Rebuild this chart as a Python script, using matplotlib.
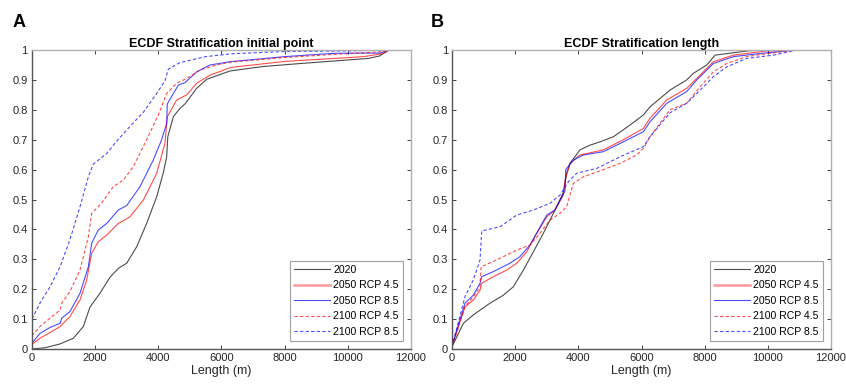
import matplotlib.pyplot as plt

plt.rcParams['font.family'] = ['Liberation Sans', 'DejaVu Sans']

# ---- Panel A: ECDF stratification initial point ----
a_2020_x = [0, 400, 890, 1310, 1625, 1835, 2150, 2470, 2735, 3000, 3315, 3630, 3950, 4160, 4265, 4300,
            4475, 4686, 4845, 5215, 5530, 6270, 7325, 8500, 10650, 11000, 11300]
a_2020_y = [0, 0.004, 0.017, 0.036, 0.075, 0.14, 0.186, 0.24, 0.27, 0.287, 0.342, 0.42, 0.51, 0.59, 0.643, 0.71,
            0.777, 0.805, 0.82, 0.872, 0.902, 0.93, 0.945, 0.955, 0.972, 0.98, 1.0]

a_2050_45_x = [0, 250, 570, 890, 1200, 1520, 1730, 1890, 2100, 2365, 2735, 3100, 3525, 3950, 4210, 4285,
               4580, 4900, 5215, 5635, 6300, 8000, 10500, 11100, 11300]
a_2050_45_y = [0.015, 0.036, 0.055, 0.075, 0.108, 0.164, 0.23, 0.32, 0.359, 0.381, 0.42, 0.442, 0.498, 0.588, 0.688, 0.777,
               0.833, 0.85, 0.889, 0.916, 0.942, 0.962, 0.978, 0.988, 1.0]

a_2050_85_x = [0, 250, 570, 890, 940, 1200, 1520, 1785, 1890, 2100, 2365, 2735, 3000, 3420, 3840, 4105, 4265, 4285,
               4635, 4845, 5215, 5635, 6270, 8000, 9540, 11020, 11300]
a_2050_85_y = [0.019, 0.052, 0.072, 0.086, 0.103, 0.125, 0.186, 0.275, 0.354, 0.398, 0.42, 0.465, 0.48, 0.543, 0.632, 0.7, 0.755, 0.82,
               0.883, 0.891, 0.927, 0.95, 0.961, 0.978, 0.989, 0.99, 1.0]

a_2100_45_x = [0, 250, 570, 890, 940, 1200, 1520, 1785, 1890, 2200, 2575, 2890, 3210, 3630, 4000, 4265,
               4580, 4900, 5320, 5850, 6300, 8000, 9500, 11000, 11300]
a_2100_45_y = [0.044, 0.075, 0.103, 0.13, 0.153, 0.192, 0.264, 0.376, 0.454, 0.487, 0.543, 0.565, 0.61, 0.7, 0.783, 0.855,
               0.889, 0.905, 0.933, 0.95, 0.96, 0.975, 0.985, 0.994, 1.0]

a_2100_85_x = [0, 250, 570, 890, 1200, 1520, 1785, 1940, 2365, 2680, 3100, 3525, 3950, 4210, 4317,
               4685, 5500, 6375, 8000, 10000, 11300]
a_2100_85_y = [0.1, 0.153, 0.208, 0.275, 0.365, 0.476, 0.576, 0.618, 0.654, 0.695, 0.744, 0.792, 0.855, 0.897, 0.936,
               0.958, 0.978, 0.988, 0.995, 0.997, 1.0]

# ---- Panel B: ECDF stratification length ----
b_2020_x = [0, 360, 675, 887, 1200, 1625, 1940, 2260, 2575, 2890, 3210, 3525, 3630, 3735, 4050, 4370, 4690, 5110,
            5635, 6060, 6270, 6900, 7430, 7640, 8065, 8330, 8910, 9435, 10000]
b_2020_y = [0.008, 0.086, 0.114, 0.13, 0.153, 0.18, 0.208, 0.264, 0.325, 0.387, 0.454, 0.523, 0.588, 0.621, 0.666, 0.682, 0.693, 0.71,
            0.749, 0.783, 0.81, 0.866, 0.9, 0.922, 0.95, 0.983, 0.991, 0.998, 1.0]

b_2050_45_x = [0, 410, 675, 887, 940, 1310, 1730, 2050, 2365, 2680, 3000, 3260, 3525, 3580, 3735, 4050, 4790, 5425,
               6060, 6270, 6800, 7430, 7750, 8275, 8910, 9965, 10900]
b_2050_45_y = [0.01, 0.141, 0.164, 0.197, 0.22, 0.242, 0.264, 0.287, 0.325, 0.387, 0.442, 0.465, 0.515, 0.565, 0.62, 0.649, 0.666, 0.7,
               0.738, 0.772, 0.833, 0.872, 0.905, 0.961, 0.983, 0.997, 1.0]

b_2050_85_x = [0, 410, 675, 887, 940, 1310, 1835, 2150, 2470, 2735, 3000, 3260, 3580, 3600, 3840, 4160, 4790, 5425,
               6060, 6270, 6800, 7430, 7750, 8275, 8910, 9965, 10900]
b_2050_85_y = [0.01, 0.153, 0.18, 0.22, 0.242, 0.259, 0.287, 0.309, 0.348, 0.398, 0.448, 0.465, 0.53, 0.6, 0.632, 0.649, 0.66, 0.693,
               0.727, 0.76, 0.822, 0.861, 0.9, 0.955, 0.978, 0.991, 1.0]

b_2100_45_x = [0, 410, 675, 887, 920, 1415, 2050, 2470, 2785, 3100, 3420, 3630, 3840, 4160, 4790, 5320, 5850,
               6060, 6270, 6900, 7430, 7855, 8275, 8700, 9330, 10175, 10900]
b_2100_45_y = [0.008, 0.141, 0.175, 0.209, 0.275, 0.298, 0.331, 0.348, 0.387, 0.431, 0.454, 0.476, 0.554, 0.576, 0.6, 0.621, 0.649,
               0.671, 0.71, 0.8, 0.822, 0.877, 0.927, 0.955, 0.978, 0.991, 1.0]

b_2100_85_x = [0, 410, 675, 887, 940, 1520, 2050, 2575, 3100, 3420, 3685, 3950, 4580, 5320, 6060, 6270,
               6900, 7430, 7855, 8275, 8700, 9330, 10175, 10900]
b_2100_85_y = [0.008, 0.175, 0.231, 0.298, 0.395, 0.409, 0.448, 0.465, 0.487, 0.515, 0.56, 0.588, 0.604, 0.643, 0.677, 0.71,
               0.79, 0.822, 0.866, 0.911, 0.944, 0.972, 0.983, 1.0]

labels = ['2020', '2050 RCP 4.5', '2050 RCP 8.5', '2100 RCP 4.5', '2100 RCP 8.5']
colors = ['#000000', '#ff0000', '#0000ff', '#ff0000', '#0000ff']
styles = ['-', '-', '-', (0, (3, 2)), (0, (3, 2))]

xticks = [0, 2000, 4000, 6000, 8000, 10000, 12000]
yticks = [0, 0.1, 0.2, 0.3, 0.4, 0.5, 0.6, 0.7, 0.8, 0.9, 1]
ytick_labels = ['0', '0.1', '0.2', '0.3', '0.4', '0.5', '0.6', '0.7', '0.8', '0.9', '1']

fig = plt.figure(figsize=(8.46, 3.85), dpi=100)
ax1 = fig.add_axes([0.0378, 0.0935, 0.448, 0.7765])
ax2 = fig.add_axes([0.5343, 0.0935, 0.448, 0.7765])

panels = [
    (ax1, 'ECDF Stratification initial point',
     [(a_2020_x, a_2020_y), (a_2050_45_x, a_2050_45_y), (a_2050_85_x, a_2050_85_y),
      (a_2100_45_x, a_2100_45_y), (a_2100_85_x, a_2100_85_y)]),
    (ax2, 'ECDF Stratification length',
     [(b_2020_x, b_2020_y), (b_2050_45_x, b_2050_45_y), (b_2050_85_x, b_2050_85_y),
      (b_2100_45_x, b_2100_45_y), (b_2100_85_x, b_2100_85_y)]),
]

for ax, title, series in panels:
    for (x, y), lab, c, ls in zip(series, labels, colors, styles):
        ax.plot(x, y, color=c, linestyle=ls, linewidth=0.8, alpha=0.7, label=lab)
    ax.set_xlim(0, 12000)
    ax.set_ylim(0, 1)
    ax.set_xticks(xticks)
    ax.set_xticklabels([str(t) for t in xticks])
    ax.set_yticks(yticks)
    ax.set_yticklabels(ytick_labels)
    ax.tick_params(direction='in', length=3, width=0.6, labelsize=8, colors='#262626',
                   top=True, right=True, pad=3)
    ax.spines['left'].set_color('#555555')
    ax.spines['bottom'].set_color('#555555')
    ax.spines['top'].set_color('#b0b0b0')
    ax.spines['right'].set_color('#b0b0b0')
    for s in ax.spines.values():
        s.set_linewidth(1.0)
    ax.set_xlabel('Length (m)', fontsize=9, color='#262626', labelpad=1)
    ax.set_title(title, fontsize=9, fontweight='bold', pad=2)
    leg = ax.legend(loc='lower right', fontsize=7.6, handlelength=3.4, handletextpad=0.35,
                    labelspacing=0.52, borderpad=0.4, borderaxespad=0.75, fancybox=False,
                    framealpha=1)
    leg.get_frame().set_edgecolor('#a0a0a0')
    leg.get_frame().set_linewidth(0.8)
    handles = leg.get_lines()
    handles[1].set_linewidth(1.8)
    handles[1].set_alpha(0.4)

fig.text(0.0154, 0.93, 'A', fontsize=13, fontweight='bold')
fig.text(0.5095, 0.93, 'B', fontsize=13, fontweight='bold')

fig.savefig('out.png', dpi=100)
